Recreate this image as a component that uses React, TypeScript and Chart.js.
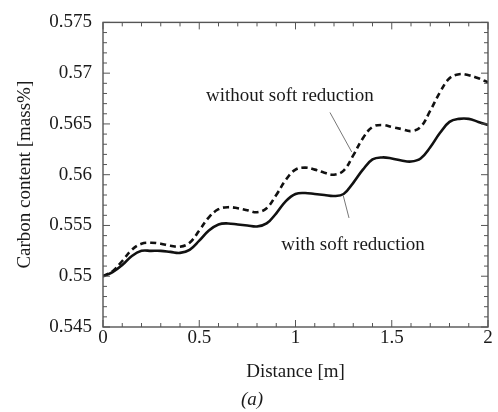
import React, { useEffect, useRef } from "react";
import { Chart, registerables } from "chart.js";

Chart.register(...registerables);

// Distance [m]
const distance = [
  0, 0.05, 0.1, 0.15, 0.2, 0.25, 0.3, 0.35, 0.4, 0.45, 0.5, 0.55, 0.6, 0.65, 0.7, 0.75, 0.8, 0.85, 0.9, 0.95,
  1.0, 1.05, 1.1, 1.15, 1.2, 1.25, 1.3, 1.35, 1.4, 1.45, 1.5, 1.55, 1.6, 1.65, 1.7, 1.75, 1.8, 1.85, 1.9, 1.95, 2.0,
];

// Carbon content [mass%] with soft reduction (solid)
const withSoftReduction = [
  0.55, 0.5504, 0.5511, 0.552, 0.5525, 0.5525, 0.5525, 0.5524, 0.5523, 0.5526, 0.5535, 0.5545, 0.5551, 0.5552,
  0.5551, 0.555, 0.5549, 0.5552, 0.5562, 0.5574, 0.5581, 0.5582, 0.5581, 0.558, 0.5579, 0.5581, 0.5592, 0.5605,
  0.5615, 0.5617, 0.5616, 0.5614, 0.5613, 0.5616, 0.5627, 0.5641, 0.5652, 0.5655, 0.5655, 0.5652, 0.5649,
];

// Carbon content [mass%] without soft reduction (dashed)
const withoutSoftReduction = [
  0.55, 0.5505, 0.5515, 0.5526, 0.5532, 0.5533, 0.5532, 0.553, 0.5529, 0.5533, 0.5545, 0.5558, 0.5566, 0.5568,
  0.5567, 0.5565, 0.5563, 0.5567, 0.558, 0.5595, 0.5605, 0.5607, 0.5605, 0.5602, 0.56, 0.5604, 0.5619, 0.5636,
  0.5647, 0.5649, 0.5647, 0.5645, 0.5643, 0.5647, 0.5663, 0.5681, 0.5695, 0.5699, 0.5698, 0.5695, 0.5691,
];

const xTickValues = [0, 0.5, 1, 1.5, 2];
const yTickValues = [0.545, 0.55, 0.555, 0.56, 0.565, 0.57, 0.575];

const seriesNames = ["without soft reduction", "with soft reduction"];
// label anchors in data coordinates: [x, y]
const labelAnchors = [
  [0.971, 0.56774],
  [1.299, 0.55303],
];
// leader lines in data coordinates: [x1, y1, x2, y2]
const leaderLines = [
  [1.179, 0.56613, 1.292, 0.56224],
  [1.248, 0.55794, 1.278, 0.55574],
];

const FONT = '"Liberation Serif", "Times New Roman", serif';

const framePlugin = {
  id: "frameAndNotes",
  afterDatasetsDraw(chart: any) {
    const { ctx, chartArea: a, scales } = chart;
    const xs = scales.x;
    const ys = scales.y;
    ctx.save();
    // frame
    ctx.strokeStyle = "#555";
    ctx.lineWidth = 1.4;
    ctx.strokeRect(a.left, a.top, a.right - a.left, a.bottom - a.top);
    // inward ticks on all four sides
    ctx.lineWidth = 1;
    ctx.beginPath();
    for (let i = 0; i <= 20; i++) {
      const v = i * 0.1;
      const px = xs.getPixelForValue(v);
      const len = i % 5 === 0 ? 7 : 4;
      ctx.moveTo(px, a.bottom);
      ctx.lineTo(px, a.bottom - len);
      ctx.moveTo(px, a.top);
      ctx.lineTo(px, a.top + len);
    }
    for (let i = 0; i <= 30; i++) {
      const v = 0.545 + i * 0.001;
      const py = ys.getPixelForValue(v);
      const len = i % 5 === 0 ? 7 : 4;
      ctx.moveTo(a.left, py);
      ctx.lineTo(a.left + len, py);
      ctx.moveTo(a.right, py);
      ctx.lineTo(a.right - len, py);
    }
    ctx.stroke();
    // leader lines
    ctx.strokeStyle = "#777";
    ctx.lineWidth = 1;
    leaderLines.forEach(([x1, y1, x2, y2]) => {
      ctx.beginPath();
      ctx.moveTo(xs.getPixelForValue(x1), ys.getPixelForValue(y1));
      ctx.lineTo(xs.getPixelForValue(x2), ys.getPixelForValue(y2));
      ctx.stroke();
    });
    // labels
    ctx.fillStyle = "#1a1a1a";
    ctx.font = `19px ${FONT}`;
    ctx.textAlign = "center";
    ctx.textBaseline = "middle";
    seriesNames.forEach((name, i) => {
      const [x, y] = labelAnchors[i];
      ctx.fillText(name, xs.getPixelForValue(x), ys.getPixelForValue(y));
    });
    // caption
    ctx.font = `italic 19px ${FONT}`;
    ctx.fillText("(a)", 252, 400);
    ctx.restore();
  },
};

export default function App() {
  const ref = useRef<HTMLCanvasElement | null>(null);
  useEffect(() => {
    if (!ref.current) return;
    const chart = new Chart(ref.current, {
      type: "line",
      data: {
        datasets: [
          {
            label: seriesNames[0],
            data: distance.map((x, i) => ({ x, y: withoutSoftReduction[i] })),
            borderColor: "#111",
            borderWidth: 2.6,
            borderDash: [6, 4],
            pointRadius: 0,
            tension: 0.4,
            fill: false,
          },
          {
            label: seriesNames[1],
            data: distance.map((x, i) => ({ x, y: withSoftReduction[i] })),
            borderColor: "#111",
            borderWidth: 2.6,
            pointRadius: 0,
            tension: 0.4,
            fill: false,
          },
        ],
      },
      options: {
        responsive: false,
        animation: false,
        events: [],
        layout: { padding: { top: 17, right: 10, left: 0, bottom: 0 } },
        plugins: { legend: { display: false }, tooltip: { enabled: false } },
        scales: {
          x: {
            type: "linear",
            min: 0,
            max: 2,
            afterBuildTicks: (s: any) => {
              s.ticks = xTickValues.map((v) => ({ value: v }));
            },
            afterFit: (s: any) => {
              s.height = 85;
            },
            grid: { display: false, drawTicks: false },
            border: { display: false },
            ticks: {
              padding: 0,
              color: "#1a1a1a",
              font: { family: FONT, size: 19 },
              callback: (v: any) => String(+Number(v).toFixed(3)),
              maxRotation: 0,
            },
            title: {
              display: true,
              text: "Distance [m]",
              color: "#1a1a1a",
              font: { family: FONT, size: 19 },
              padding: { top: 4, bottom: 28.6 },
            },
          },
          y: {
            type: "linear",
            min: 0.545,
            max: 0.575,
            afterBuildTicks: (s: any) => {
              s.ticks = yTickValues.map((v) => ({ value: v }));
            },
            afterFit: (s: any) => {
              s.width = 103;
            },
            grid: { display: false, drawTicks: false },
            border: { display: false },
            ticks: {
              padding: 11,
              color: "#1a1a1a",
              font: { family: FONT, size: 19 },
              callback: (v: any) => String(+Number(v).toFixed(3)),
            },
            title: {
              display: true,
              text: "Carbon content [mass%]",
              color: "#1a1a1a",
              font: { family: FONT, size: 19 },
              padding: { top: 13.6, bottom: 0 },
            },
          },
        },
      },
      plugins: [framePlugin],
    });
    return () => chart.destroy();
  }, []);
  return (
    <div style={{ position: "fixed", left: 0, top: 0, width: 498, height: 412, background: "#fff" }}>
      <canvas ref={ref} width={498} height={412} style={{ display: "block" }} />
    </div>
  );
}
